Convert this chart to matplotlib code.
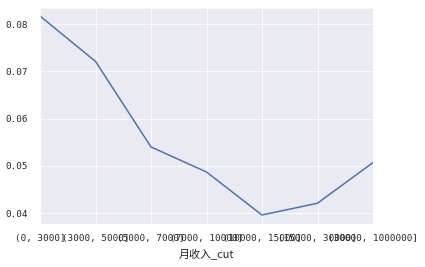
import matplotlib
matplotlib.use('Agg')
import matplotlib.pyplot as plt
import seaborn as sns

# income bins and the mean rate in each
income_bins = ['(0, 3000]', '(3000, 5000]', '(5000, 7000]', '(7000, 10000]',
               '(10000, 15000]', '(15000, 30000]', '(30000, 1000000]']
rate = [0.0817, 0.0721, 0.0540, 0.0487, 0.0396, 0.0421, 0.0507]
y_ticks = [0.04, 0.05, 0.06, 0.07, 0.08]

sns.set_style('darkgrid')
plt.rcParams['font.family'] = ['Noto Sans CJK SC', 'DejaVu Sans']
plt.rcParams['axes.unicode_minus'] = False

# half-width glyphs like the original's SimHei, so the labels take the same room
mono = 'DejaVu Sans Mono'

fig = plt.figure(figsize=(425 / 72, 267 / 72), dpi=72)
ax = fig.add_axes([40 / 425, 1 - 224 / 267, 333 / 425, 216 / 267])
x = range(len(income_bins))
ax.plot(x, rate, color='#4c72b0', linewidth=1.5)
ax.set_xticks(list(x))
ax.set_xticklabels(income_bins, fontsize=9.3, family=mono)
ax.set_xlim(0, len(income_bins) - 1)
ax.set_ylim(0.0377, 0.0834)
ax.set_yticks(y_ticks)
ax.set_yticklabels([f'{v:.2f}' for v in y_ticks], fontsize=9.3, family=mono)
ax.tick_params(axis='y', pad=9)
ax.tick_params(axis='x', pad=7)
ax.set_xlabel('月收入_cut', fontsize=11, labelpad=6)

fig.savefig('out.png', dpi=72)
